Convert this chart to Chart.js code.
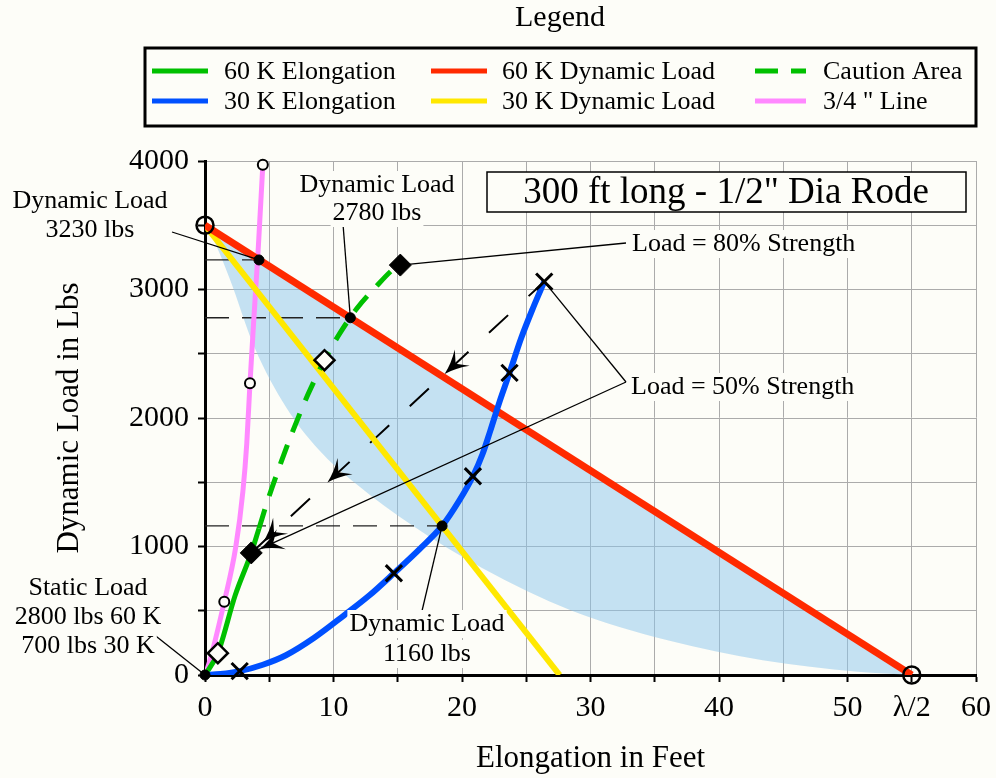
<!DOCTYPE html>
<html>
<head>
<meta charset="utf-8">
<script src="https://cdn.jsdelivr.net/npm/chart.js@4.4.1/dist/chart.umd.min.js"></script>
<style>
  html, body { margin: 0; padding: 0; background: #fdfdf8; }
  #wrap { width: 996px; height: 778px; }
</style>
</head>
<body>
<div id="wrap"><canvas id="chart" width="996" height="778"></canvas></div>
<script>
/* ── Chart data: x = elongation (ft), y = dynamic load (lbs) ───────── */
const elong60      = [[0,0],[1.0,170],[2.35,620],[3.6,950],[4.2,1140]];
const caution60    = [[4.2,1140],[4.85,1350],[5.9,1650],[6.8,1890],[8.0,2180],[9.3,2450],[10.5,2660],[11.8,2850],[13.2,3010],[14.8,3170],[15.2,3190]];
const elong30      = [[0,0],[1.2,8],[2.7,30],[4.5,80],[6.3,154],[8.5,290],[10.8,463],[12.8,620],[14.7,792],[16.7,980],[18.45,1160],[19.8,1360],[20.85,1547],[21.6,1720],[22.2,1900],[22.9,2120],[23.7,2351],[24.6,2620],[25.5,2850],[26.4,3061]];
const dyn60        = [[0,3500],[55,0]];
const dyn30        = [[0,3500],[27.6,0]];
const line34       = [[0,0],[0.4,120],[1.5,570],[2.4,1000],[2.95,1430],[3.25,1800],[3.5,2270],[3.85,2850],[4.15,3330],[4.5,3970]];
const zoneEdge     = [[0,3500],[0.4,3441],[1.9,3090],[3.85,2550],[6.3,2086],[8.8,1759],[11.75,1488],[16.2,1159],[21.6,830],[28.5,502],[36,270],[43.4,115],[50.8,26],[55,0]];
const cautionPath  = [[3.6,950],[26.4,3061]];

// markers
const loadDots     = [[0,0],[4.2,3230],[11.31,2780],[18.45,1160]];
const ringPts      = [[1.5,570],[3.5,2270],[4.5,3970]];
const endRings     = [[0,3500],[55,0]];
const openDiamonds = [[1.0,170],[9.3,2450]];
const strengthPts  = [[3.6,950],[15.2,3190]];
const crossPts     = [[2.7,30],[14.7,792],[20.85,1547],[23.7,2351],[26.4,3061]];

// axis ticks
const xLabels = {0:"0",10:"10",20:"20",30:"30",40:"40",50:"50",55:"λ/2",60:"60"};
const yLabels = {0:"0",1000:"1000",2000:"2000",3000:"3000",4000:"4000"};

const BG    = "#fdfdf8";
const SERIF = "'Liberation Serif', 'DejaVu Serif', serif";
const pts = a => a.map(([x, y]) => ({x, y}));

// ── datasets ───────────────────────────────────────────
function lineSet(label, data, color, width, extra) {
    return Object.assign({
        label, data: pts(data), showLine: true,
        borderColor: color, backgroundColor: color, borderWidth: width,
        pointRadius: 0, tension: 0
    }, extra || {});
}
function markSet(label, data, style, radius, fillColor, border) {
    return {
        label, data: pts(data), showLine: false, pointStyle: style,
        pointRadius: radius, pointBackgroundColor: fillColor,
        pointBorderColor: "#000", pointBorderWidth: border, order: 1, clip: false
    };
}
function refLine(p) {
    return lineSet("ref", [[0, p[1]], p], "#222", 1.3, {borderDash: [24, 13], order: 12});
}

const datasets = [
    lineSet("zone", zoneEdge, "rgba(140,198,236,0.5)", 0,
        {fill: "+1", cubicInterpolationMode: "monotone", order: 20}),
    lineSet("60 K Dynamic Load", dyn60, "#ff2a00", 7, {order: 5}),
    lineSet("30 K Dynamic Load", dyn30, "#ffe800", 6, {order: 6}),
    lineSet("30 K Elongation", elong30, "#0050ff", 6, {cubicInterpolationMode: "monotone", order: 3}),
    lineSet("60 K Elongation", elong60, "#00c000", 5, {cubicInterpolationMode: "monotone", order: 4}),
    lineSet("Caution Area", caution60, "#00c000", 5, {cubicInterpolationMode: "monotone", borderDash: [20, 14], order: 4}),
    lineSet("3/4 \" Line", line34, "#ff88ff", 5, {cubicInterpolationMode: "monotone", order: 7}),
    lineSet("path", cautionPath, "#000", 2, {borderDash: [26, 28], order: 8}),
    refLine(loadDots[1]), refLine(loadDots[2]), refLine(loadDots[3]),
    markSet("rings", ringPts, "circle", 5, BG, 2),
    markSet("ends", endRings, "circle", 8.5, "rgba(0,0,0,0)", 2.5),
    markSet("open", openDiamonds, "rectRot", 10, BG, 2.5),
    markSet("strength", strengthPts, "rectRot", 11, "#000", 1),
    markSet("cross", crossPts, "crossRot", 11.5, "#000", 3),
    markSet("dots", loadDots, "circle", 5, "#000", 1),
];

// ── annotations (text in px, leader ends on data points) ───
const notes = [
    {lines: ["Dynamic Load", "3230 lbs"], cx: 90,  y: [201, 230], from: [172, 232], to: loadDots[1]},
    {lines: ["Dynamic Load", "2780 lbs"], cx: 377, y: [185, 213], from: [343, 224], to: loadDots[2]},
    {lines: ["Dynamic Load", "1160 lbs"], cx: 427, y: [624, 654], from: [422, 611], to: loadDots[3]},
    {lines: ["Static Load", "2800 lbs 60 K", "700 lbs 30 K"], cx: 88, y: [588, 617, 646], from: [152, 633], to: loadDots[0]},
];
const strengthNotes = [
    {text: "Load = 80% Strength", x: 632, y: 244, from: [626, 243], to: [strengthPts[1]]},
    {text: "Load = 50% Strength", x: 631, y: 387, from: [626, 382], to: [crossPts[4], strengthPts[0]]},
];

const legendCells = [
    ["60 K Elongation", 0, 0], ["30 K Elongation", 0, 1],
    ["60 K Dynamic Load", 1, 0], ["30 K Dynamic Load", 1, 1],
    ["Caution Area", 2, 0], ["3/4 \" Line", 2, 1],
];

// notched arrow head, tip at (x, y), pointing along ang
function arrowHead(ctx, x, y, ang) {
    ctx.save();
    ctx.translate(x, y);
    ctx.rotate(ang);
    ctx.beginPath();
    ctx.moveTo(0, 0);
    ctx.quadraticCurveTo(-12, -3, -24, -11);
    ctx.lineTo(-15, 0);
    ctx.lineTo(-24, 11);
    ctx.quadraticCurveTo(-12, 3, 0, 0);
    ctx.closePath();
    ctx.fillStyle = "#000";
    ctx.fill();
    ctx.restore();
}

function bgText(ctx, txt, x, y, align) {
    ctx.textAlign = align;
    const w = ctx.measureText(txt).width;
    const left = align === "center" ? x - w / 2 : x;
    ctx.fillStyle = BG;
    ctx.fillRect(left - 2, y - 14, w + 4, 28);
    ctx.fillStyle = "#000";
    ctx.fillText(txt, x, y);
}

const decorPlugin = {
    id: "decor",
    afterDraw(chart) {
        const ctx = chart.ctx;
        const xs = chart.scales.x, ys = chart.scales.y;
        const px = p => [xs.getPixelForValue(p[0]), ys.getPixelForValue(p[1])];
        ctx.save();

        // arrows along the dashed caution path
        const a = px(cautionPath[0]), b = px(cautionPath[1]);
        const ang = Math.atan2(a[1] - b[1], a[0] - b[0]);
        [0.04, 0.26, 0.66].forEach(t => {
            arrowHead(ctx, a[0] + (b[0] - a[0]) * t, a[1] + (b[1] - a[1]) * t, ang);
        });

        // leader lines
        ctx.strokeStyle = "#000";
        ctx.lineWidth = 1.3;
        notes.forEach(n => {
            const p = px(n.to);
            ctx.beginPath(); ctx.moveTo(n.from[0], n.from[1]); ctx.lineTo(p[0], p[1]); ctx.stroke();
        });
        strengthNotes.forEach(n => {
            n.to.forEach((t, i) => {
                const p = px(t);
                ctx.beginPath(); ctx.moveTo(n.from[0], n.from[1]); ctx.lineTo(p[0], p[1]); ctx.stroke();
                if (n.to.length > 1 && i === 1) {
                    const an = Math.atan2(p[1] - n.from[1], p[0] - n.from[0]);
                    arrowHead(ctx, p[0] - Math.cos(an) * 9, p[1] - Math.sin(an) * 9, an);
                }
            });
        });

        // annotation text
        ctx.font = `26px ${SERIF}`;
        ctx.textBaseline = "middle";
        notes.forEach(n => n.lines.forEach((l, i) => bgText(ctx, l, n.cx, n.y[i], "center")));
        strengthNotes.forEach(n => bgText(ctx, n.text, n.x, n.y, "left"));

        // title box
        ctx.fillStyle = BG;
        ctx.fillRect(487, 172, 479, 40);
        ctx.strokeStyle = "#000";
        ctx.lineWidth = 1.5;
        ctx.strokeRect(487, 172, 479, 40);
        ctx.fillStyle = "#000";
        ctx.font = `37px ${SERIF}`;
        ctx.textAlign = "center";
        ctx.fillText("300 ft long - 1/2\" Dia Rode", 726, 193);

        // legend
        ctx.font = `30px ${SERIF}`;
        ctx.fillText("Legend", 560, 18);
        ctx.lineWidth = 3;
        ctx.strokeRect(145, 48, 831, 78);
        const colX = [152, 431, 755], lineLen = [56, 56, 51], textX = [224, 502, 823], rowY = [71, 101];
        ctx.font = `26px ${SERIF}`;
        ctx.textAlign = "left";
        legendCells.forEach(([label, c, r]) => {
            const ds = chart.data.datasets.find(d => d.label === label);
            ctx.strokeStyle = ds.borderColor;
            ctx.lineWidth = 5;
            ctx.setLineDash(ds.borderDash ? [23, 13] : []);
            ctx.beginPath();
            ctx.moveTo(colX[c], rowY[r]);
            ctx.lineTo(colX[c] + lineLen[c], rowY[r]);
            ctx.stroke();
            ctx.setLineDash([]);
            ctx.fillStyle = "#000";
            ctx.fillText(label, textX[c], rowY[r] + 1);
        });
        ctx.restore();
    }
};

new Chart(document.getElementById("chart"), {
    type: "scatter",
    data: {datasets},
    options: {
        responsive: false,
        animation: false,
        devicePixelRatio: 1,
        layout: {padding: {top: 161, right: 20, left: 0, bottom: 0}},
        plugins: {legend: {display: false}, tooltip: {enabled: false}},
        scales: {
            x: {
                type: "linear", min: 0, max: 60,
                afterFit: s => { s.height = 103; s.paddingLeft = 0; s.paddingRight = 0; },
                ticks: {
                    stepSize: 5, autoSkip: false, maxRotation: 0, padding: 8, color: "#000",
                    font: {family: SERIF, size: 30},
                    callback: v => xLabels[v] || ""
                },
                grid: {color: "#ababab", lineWidth: 1, tickColor: "#000", tickWidth: 2, tickLength: 7},
                border: {color: "#000", width: 3},
                title: {display: true, text: "Elongation in Feet", color: "#000",
                        font: {family: SERIF, size: 31}, padding: {top: 0, bottom: 1}}
            },
            y: {
                type: "linear", min: 0, max: 4000,
                afterFit: s => { s.width = 205; s.paddingTop = 0; s.paddingBottom = 0; },
                ticks: {
                    stepSize: 500, autoSkip: false, padding: 9, color: "#000",
                    font: {family: SERIF, size: 30},
                    callback: v => yLabels[v] || ""
                },
                grid: {color: "#ababab", lineWidth: 1, tickColor: "#000", tickWidth: 2, tickLength: 7},
                border: {color: "#000", width: 3},
                title: {display: true, text: "Dynamic Load in Lbs", color: "#000",
                        font: {family: SERIF, size: 31}, padding: {top: 51, bottom: 0}}
            }
        }
    },
    plugins: [decorPlugin]
});
</script>
</body>
</html>
